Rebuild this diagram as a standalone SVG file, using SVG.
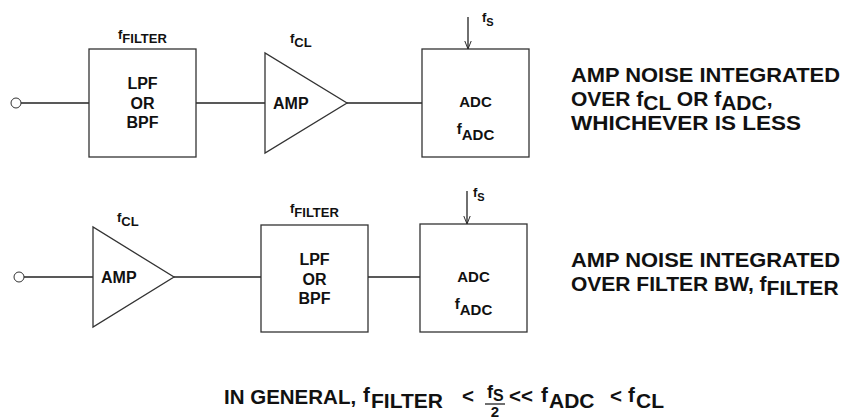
<svg xmlns="http://www.w3.org/2000/svg" width="850" height="419" viewBox="0 0 850 419">
<defs>
<marker id="arr" viewBox="0 0 10 10" refX="10" refY="5" markerWidth="8" markerHeight="8" orient="auto" markerUnits="userSpaceOnUse">
<path d="M0,1 L10,5 L0,9" fill="none" stroke="#222" stroke-width="1.2"/>
</marker>
</defs>
<style>
text{font-family:"Liberation Sans",Arial,sans-serif;font-weight:bold;fill:#111}
.box{fill:#fff;stroke:#333;stroke-width:1.3}
.w{stroke:#222;stroke-width:1.3;fill:none}
.pin{fill:#fff;stroke:#333;stroke-width:1}
.in{font-size:16px}
.adc{font-size:15px}
.lab{font-size:13px}
.note{font-size:21px}
.sub{font-size:21px}
.eq{font-size:20.5px}
.eqs{font-size:21px}
</style>
<rect width="850" height="419" fill="#fff"/>
<g id="connectors">
<line class="w" x1="21" y1="103" x2="89" y2="103"/>
<line class="w" x1="196" y1="103" x2="265" y2="103"/>
<line class="w" x1="347" y1="103" x2="422" y2="103"/>
<line class="w" x1="468" y1="17" x2="468" y2="49" marker-end="url(#arr)"/>
<line class="w" x1="24" y1="277" x2="93" y2="277"/>
<line class="w" x1="174" y1="277" x2="261" y2="277"/>
<line class="w" x1="368" y1="277" x2="420" y2="277"/>
<line class="w" x1="467" y1="191" x2="467" y2="224" marker-end="url(#arr)"/>
</g>
<g id="in1"><circle class="pin" cx="16" cy="103" r="5"/></g>
<g id="filter1">
<rect class="box" x="89" y="49" width="107" height="108"/>
<text class="lab" x="118" y="39">f<tspan dy="4">FILTER</tspan></text>
<text class="in" x="142.5" y="89" text-anchor="middle">LPF</text>
<text class="in" x="142.5" y="109" text-anchor="middle">OR</text>
<text class="in" x="142.5" y="128" text-anchor="middle">BPF</text>
</g>
<g id="amp1">
<polygon class="box" points="265,53 265,153 347,103"/>
<text class="lab" x="290" y="43">f<tspan dy="4">CL</tspan></text>
<text class="in" x="273" y="109">AMP</text>
</g>
<g id="adc1">
<rect class="box" x="422" y="49" width="107" height="108"/>
<text class="lab" x="482" y="22">f<tspan dy="4" font-size="11">S</tspan></text>
<text class="adc" x="475.5" y="107" text-anchor="middle">ADC</text>
<text class="adc" x="475.5" y="134" text-anchor="middle">f<tspan dy="6">ADC</tspan></text>
</g>
<g id="note1">
<text class="note" x="571" y="82" textLength="269" lengthAdjust="spacingAndGlyphs">AMP NOISE INTEGRATED</text>
<text class="note" x="571" y="106">OVER f<tspan class="sub" dy="4">CL</tspan><tspan dy="-4"> OR f</tspan><tspan class="sub" dy="4">ADC</tspan><tspan dy="-4">,</tspan></text>
<text class="note" x="571" y="130" textLength="230" lengthAdjust="spacingAndGlyphs">WHICHEVER IS LESS</text>
</g>
<g id="in2"><circle class="pin" cx="19" cy="277" r="5"/></g>
<g id="amp2">
<polygon class="box" points="93,227 93,327 174,277"/>
<text class="lab" x="117" y="222">f<tspan dy="4">CL</tspan></text>
<text class="in" x="101" y="283">AMP</text>
</g>
<g id="filter2">
<rect class="box" x="261" y="225" width="107" height="107"/>
<text class="lab" x="290" y="213">f<tspan dy="4">FILTER</tspan></text>
<text class="in" x="314.5" y="265" text-anchor="middle">LPF</text>
<text class="in" x="314.5" y="285" text-anchor="middle">OR</text>
<text class="in" x="314.5" y="304" text-anchor="middle">BPF</text>
</g>
<g id="adc2">
<rect class="box" x="420" y="224" width="107" height="108"/>
<text class="lab" x="473" y="197">f<tspan dy="4" font-size="11">S</tspan></text>
<text class="adc" x="473.5" y="282" text-anchor="middle">ADC</text>
<text class="adc" x="473.5" y="309" text-anchor="middle">f<tspan dy="6">ADC</tspan></text>
</g>
<g id="note2">
<text class="note" x="571" y="267" textLength="269" lengthAdjust="spacingAndGlyphs">AMP NOISE INTEGRATED</text>
<text class="note" x="571" y="291">OVER FILTER BW, f<tspan class="sub" dy="4">FILTER</tspan></text>
</g>
<g id="equation">
<text class="eq" x="224" y="404">IN GENERAL,</text>
<text class="eq" x="363" y="402">f</text>
<text class="eqs" x="371" y="408">FILTER</text>
<text class="eq" x="462" y="403">&lt;</text>
<text x="487" y="398" font-size="18">f</text>
<text x="493" y="401" font-size="16">S</text>
<line class="w" x1="485" y1="404" x2="505" y2="404"/>
<text x="495" y="417" font-size="15" text-anchor="middle">2</text>
<text class="eq" x="509" y="403">&lt;&lt;</text>
<text class="eq" x="541" y="402">f</text>
<text class="eqs" x="549" y="408">ADC</text>
<text class="eq" x="610" y="403">&lt;</text>
<text class="eq" x="628" y="402">f</text>
<text class="eqs" x="636" y="408">CL</text>
</g>
</svg>
